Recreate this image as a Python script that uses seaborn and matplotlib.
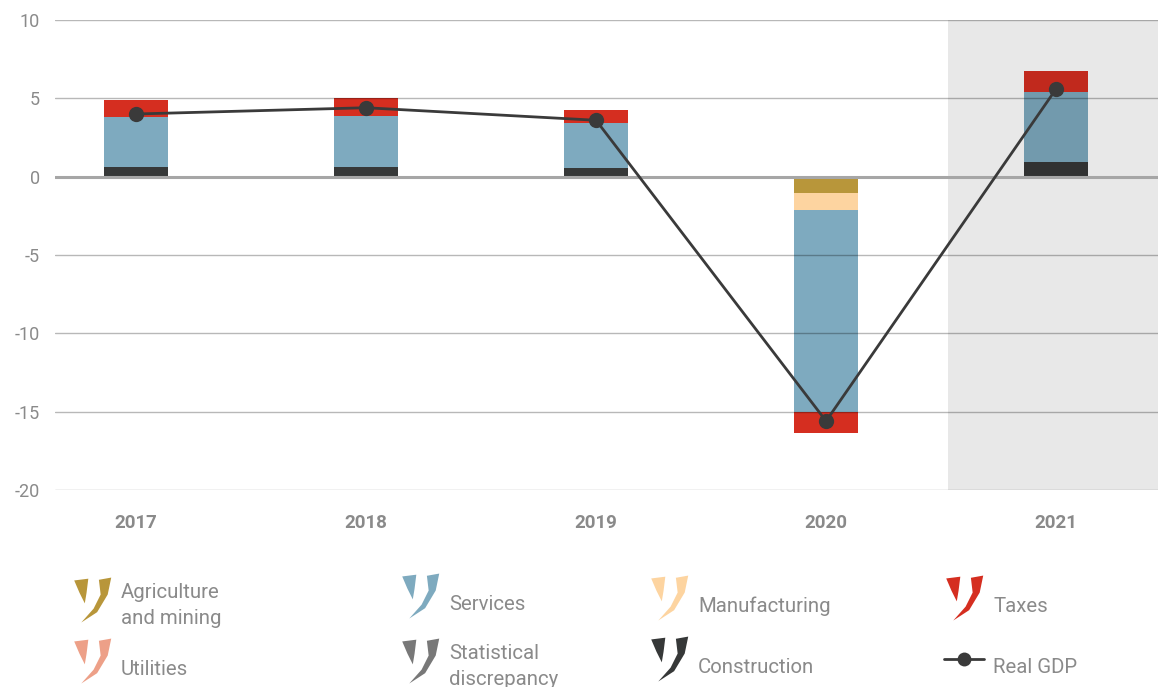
import numpy as np
import pandas as pd
import matplotlib.pyplot as plt
import seaborn as sns
from matplotlib.path import Path
from matplotlib.lines import Line2D

# --- data (percentage point contributions to real GDP growth) ---
years = ["2017", "2018", "2019", "2020", "2021"]
agriculture = [0.0, 0.0, 0.0, -1.05, 0.0]
utilities = [0.0, 0.0, 0.0, 0.0, 0.0]
manufacturing = [0.0, 0.0, 0.0, -1.05, 0.0]
construction = [0.6, 0.6, 0.55, 0.0, 0.95]
stat_discrepancy = [0.0, 0.0, 0.0, 0.0, 0.0]
services = [3.22, 3.25, 2.87, -12.9, 4.45]
taxes = [1.1, 1.15, 0.81, -1.35, 1.35]
real_gdp = [4.0, 4.4, 3.6, -15.6, 5.6]

components = {
    "Agriculture\nand mining": (agriculture, "#b8963a"),
    "Utilities": (utilities, "#eda088"),
    "Manufacturing": (manufacturing, "#fdd4a0"),
    "Construction": (construction, "#363838"),
    "Statistical\ndiscrepancy": (stat_discrepancy, "#787878"),
    "Services": (services, "#7eaabf"),
    "Taxes": (taxes, "#d52e20"),
}

sns.set_theme(style="white")
plt.rcParams["font.family"] = ["Roboto", "DejaVu Sans"]
plt.rcParams["axes.unicode_minus"] = False
text_gray = "#8a8a8a"

fig = plt.figure(figsize=(11.58, 6.87), dpi=100)
ax = fig.add_axes([55 / 1158, 1 - 490 / 687, 1 - 55 / 1158, 470 / 687])

x = np.arange(len(years))
width = 0.278
pos_bottom = np.zeros(len(years))
neg_bottom = np.zeros(len(years))
for name, (vals, color) in components.items():
    vals = np.array(vals)
    bottom = np.where(vals >= 0, pos_bottom, neg_bottom)
    ax.bar(x, vals, width=width, bottom=bottom, color=color, linewidth=0, zorder=1)
    pos_bottom += np.clip(vals, 0, None)
    neg_bottom += np.clip(vals, None, 0)

# Real GDP line
gdp_df = pd.DataFrame({"x": x, "gdp": real_gdp})
sns.lineplot(data=gdp_df, x="x", y="gdp", ax=ax, color="#3a3a3a", linewidth=2,
             marker="o", markersize=11, markeredgewidth=0, zorder=5)

ax.set_xlim(-0.352, 4.443)
ax.set_ylim(-20, 10)

# forecast shading
ax.axvspan(3.53, 4.443, color="black", alpha=0.09, lw=0, zorder=2.6)

ax.set_axisbelow(False)
ax.yaxis.grid(True, color="black", alpha=0.28, linewidth=1)
ax.xaxis.grid(False)
ax.axhline(0, color="#a6a6a6", linewidth=2.2, zorder=3)
for s in ax.spines.values():
    s.set_visible(False)

ax.set_yticks([10, 5, 0, -5, -10, -15, -20])
ax.set_xticks(x)
ax.set_xticklabels(years, fontweight="bold")
ax.tick_params(axis="y", length=0, pad=11, labelsize=13, labelcolor=text_gray)
ax.tick_params(axis="x", length=0, pad=17, labelsize=13.5, labelcolor=text_gray)
ax.set_xlabel("")
ax.set_ylabel("")

# custom legend glyph (two curved blades)
verts = [(-0.83, 0.91), (-0.19, 0.99), (-0.27, 0.35), (-0.35, -0.13), (-0.59, 0.35), (-0.83, 0.91),
         (0.29, 0.94), (0.85, 1.04), (0.69, 0.27), (0.21, -0.53), (-0.51, -1.0), (0.05, -0.37),
         (0.37, 0.27), (0.29, 0.94)]
codes = ([Path.MOVETO] + [Path.LINETO] * 4 + [Path.CLOSEPOLY]
         + [Path.MOVETO] + [Path.LINETO] * 6 + [Path.CLOSEPOLY])
glyph = Path(verts, codes)


def glyph_handle(name):
    return Line2D([], [], linestyle="none", marker=glyph, markersize=33,
                  markerfacecolor=components[name][1], markeredgewidth=0)


gdp_handle = Line2D([], [], color="#3a3a3a", linewidth=2, marker="o", markersize=10,
                    markeredgewidth=0)

columns = [
    (72, [("Agriculture\nand mining", glyph_handle("Agriculture\nand mining")),
          ("Utilities", glyph_handle("Utilities"))]),
    (400, [("Services", glyph_handle("Services")),
           ("Statistical\ndiscrepancy", glyph_handle("Statistical\ndiscrepancy"))]),
    (649, [("Manufacturing", glyph_handle("Manufacturing")),
           ("Construction", glyph_handle("Construction"))]),
    (944, [("Taxes", glyph_handle("Taxes")),
           ("Real GDP", gdp_handle)]),
]
for xpix, entries in columns:
    leg = fig.legend([h for _, h in entries], [l for l, _ in entries],
                     loc="center left", bbox_to_anchor=(xpix / 1158, 1 - 636 / 687),
                     frameon=False, fontsize=14.7, handlelength=1.95, handleheight=2.7,
                     handletextpad=0.45, labelspacing=1.0, borderpad=0, borderaxespad=0,
                     labelcolor=text_gray, numpoints=1)
    for t in leg.get_texts():
        t.set_linespacing(1.45)

fig.savefig("out.png", dpi=100)
